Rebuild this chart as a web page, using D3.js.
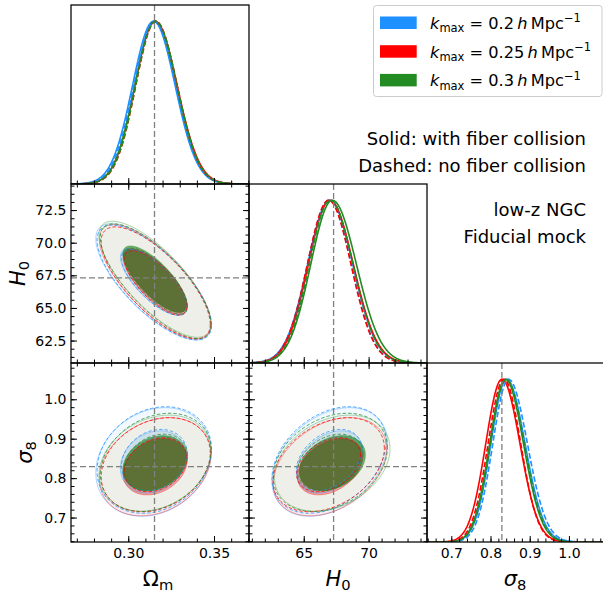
<!DOCTYPE html>
<html><head><meta charset="utf-8">
<script src="https://cdn.jsdelivr.net/npm/d3@7"></script>
<style>
body{margin:0;background:#fff}
svg{display:block;font-family:"DejaVu Sans",sans-serif}
</style>
</head><body>
<svg id="c" width="603" height="592"></svg>
<script>
// ---------------- DATA ----------------
// runs: k_max = 0.2, 0.25, 0.3 with fiber collision (solid), then without (dashed)
const kmaxLabels = ["0.2", "0.25", "0.3"];
const runK      = [0, 1, 2, 0, 1, 2];
const runDashed = [false, false, false, true, true, true];

const fiducial = [0.3153, 67.3, 0.829];          // Ωm, H0, σ8

// marginal means
const meanOm = [0.3147, 0.3157, 0.3155, 0.3152, 0.3160, 0.3160];
const meanH0 = [67.00, 67.02, 67.20, 66.95, 66.92, 67.05];
const meanS8 = [0.841, 0.829, 0.838, 0.846, 0.834, 0.840];

// 1D marginal widths (left / right of peak)
const sdLOm = [0.0122, 0.0118, 0.0117, 0.0120, 0.0116, 0.0117];
const sdROm = [0.0126, 0.0128, 0.0126, 0.0125, 0.0124, 0.0125];
const sdLH0 = [1.70, 1.66, 1.66, 1.66, 1.64, 1.62];
const sdRH0 = [1.78, 1.80, 1.86, 1.72, 1.72, 1.75];
const sdLS8 = [0.040, 0.041, 0.040, 0.040, 0.040, 0.040];
const sdRS8 = [0.047, 0.046, 0.046, 0.048, 0.043, 0.046];

// 2D contour widths and correlations
const sd2Om = [0.0127, 0.0123, 0.0123, 0.0126, 0.0120, 0.0122];
const sd2H0 = [1.68, 1.65, 1.68, 1.66, 1.62, 1.66];
const sd2S8 = [0.052, 0.047, 0.046, 0.051, 0.045, 0.047];
const rhoOmH0 = [-0.74, -0.74, -0.76, -0.74, -0.74, -0.76];
const rhoOmS8 = [0.20, 0.25, 0.25, 0.20, 0.25, 0.25];
const rhoH0S8 = [0.35, 0.35, 0.30, 0.35, 0.35, 0.30];
const contourRadii = [1.52, 2.65];   // inner / outer contour, in sigma units

// axes
const rangeOm = [0.2666, 0.3704];
const rangeH0 = [60.78, 74.5];
const rangeS8 = [0.638, 1.092];
const ticksOm = [0.30, 0.35];
const ticksH0x = [65, 70];
const ticksH0y = [62.5, 65.0, 67.5, 70.0, 72.5];
const ticksS8 = [0.7, 0.8, 0.9, 1.0];
const minorStepOm = 0.01, minorStepH0x = 1, minorStepH0y = 0.625, minorStepS8 = 0.02;

// ---------------- STYLE / LAYOUT ----------------
const colors = ["#1e90ff", "#ff0000", "#228b22"];
const L = 71, T = 5, W = 178, H = 179;
const svg = d3.select("#c");

const means = [meanOm, meanH0, meanS8];
const sdL = [sdLOm, sdLH0, sdLS8], sdR = [sdROm, sdRH0, sdRS8];
const sd2 = [sd2Om, sd2H0, sd2S8];
const rho = {"1,0": rhoOmH0, "2,0": rhoOmS8, "2,1": rhoH0S8};
const ranges = [rangeOm, rangeH0, rangeS8];
const fmtX = [d3.format(".2f"), d3.format("d"), d3.format(".1f")];
const fmtY = [null, d3.format(".1f"), d3.format(".1f")];
const majX = [ticksOm, ticksH0x, ticksS8];
const majY = [null, ticksH0y, ticksS8];
const minStepX = [minorStepOm, minorStepH0x, minorStepS8];
const minStepY = [null, minorStepH0y, minorStepS8];

function minors(dom, step) {
  const out = [];
  const s = Math.ceil(dom[0] / step - 1e-9);
  for (let k = s; k * step <= dom[1] + 1e-9; k++) out.push(+(k * step).toFixed(6));
  return out;
}

const xS = ranges.map((d, p) => d3.scaleLinear().domain(d).range([L + p * W, L + (p + 1) * W]));
const yS = ranges.map((d, p) => d3.scaleLinear().domain(d).range([T + (p + 1) * H, T + p * H]));
const yD = [0, 1, 2].map(p => d3.scaleLinear().domain([0, 1.1]).range([T + (p + 1) * H, T + p * H]));

const defs = svg.append("defs");
function clip(id, x, y) {
  defs.append("clipPath").attr("id", id).append("rect").attr("x", x).attr("y", y).attr("width", W).attr("height", H);
  return "url(#" + id + ")";
}
function pale(c, f) { return d3.interpolateRgb("#ffffff", c)(f); }

const runs = d3.range(6);
const runOrder = [0, 1, 2, 3, 4, 5];

function axes(g, i, j, diag) {
  const x0 = L + j * W, y0 = T + i * H;
  const xs = xS[j];
  const bMaj = d3.axisBottom(xs).tickValues(majX[j]).tickSize(-6).tickSizeOuter(0).tickPadding(6.5)
    .tickFormat(i === 2 ? fmtX[j] : "");
  const bMin = d3.axisBottom(xs).tickValues(minors(ranges[j], minStepX[j])).tickSize(-3.5).tickSizeOuter(0).tickFormat("");
  g.append("g").attr("class", "ax").attr("transform", `translate(0,${y0 + H})`).call(bMaj);
  g.append("g").attr("class", "ax").attr("transform", `translate(0,${y0 + H})`).call(bMin);
  if (diag) return;
  const ys = yS[i];
  g.append("g").attr("class", "ax").attr("transform", `translate(0,${y0})`)
    .call(d3.axisTop(xs).tickValues(majX[j]).tickSize(-6).tickSizeOuter(0).tickFormat(""));
  g.append("g").attr("class", "ax").attr("transform", `translate(0,${y0})`)
    .call(d3.axisTop(xs).tickValues(minors(ranges[j], minStepX[j])).tickSize(-3.5).tickSizeOuter(0).tickFormat(""));
  g.append("g").attr("class", "ax").attr("transform", `translate(${x0},0)`)
    .call(d3.axisLeft(ys).tickValues(majY[i]).tickSize(-6).tickSizeOuter(0).tickPadding(4.5).tickFormat(j === 0 ? fmtY[i] : ""));
  g.append("g").attr("class", "ax").attr("transform", `translate(${x0},0)`)
    .call(d3.axisLeft(ys).tickValues(minors(ranges[i], minStepY[i])).tickSize(-3.5).tickSizeOuter(0).tickFormat(""));
  g.append("g").attr("class", "ax").attr("transform", `translate(${x0 + W},0)`)
    .call(d3.axisRight(ys).tickValues(majY[i]).tickSize(-6).tickSizeOuter(0).tickFormat(""));
  g.append("g").attr("class", "ax").attr("transform", `translate(${x0 + W},0)`)
    .call(d3.axisRight(ys).tickValues(minors(ranges[i], minStepY[i])).tickSize(-3.5).tickSizeOuter(0).tickFormat(""));
}

// ---------- diagonal (1D) panels ----------
for (let p = 0; p < 3; p++) {
  const x0 = L + p * W, y0 = T + p * H;
  const g = svg.append("g").attr("clip-path", clip("cd" + p, x0, y0));
  const dom = ranges[p];
  const xsamp = d3.range(0, 301).map(k => dom[0] + (dom[1] - dom[0]) * k / 300);
  runOrder.forEach(r => {
    const m = means[p][r];
    const dens = v => { const s = v < m ? sdL[p][r] : sdR[p][r]; return Math.exp(-0.5 * ((v - m) / s) ** 2); };
    const line = d3.line().x(v => xS[p](v)).y(v => yD[p](dens(v)));
    g.append("path").attr("d", line(xsamp)).attr("fill", "none")
      .attr("stroke", colors[runK[r]]).attr("stroke-width", 1.6)
      .attr("stroke-dasharray", runDashed[r] ? "5.5,2.4" : null);
  });
  g.append("line").attr("x1", xS[p](fiducial[p])).attr("x2", xS[p](fiducial[p]))
    .attr("y1", y0).attr("y2", y0 + H).attr("stroke", "#808080").attr("stroke-width", 1.3)
    .attr("stroke-dasharray", "6,3");
  const a = svg.append("g");
  axes(a, p, p, true);
  svg.append("rect").attr("x", x0).attr("y", y0).attr("width", W).attr("height", H)
    .attr("fill", "none").attr("stroke", "#000").attr("stroke-width", 1.25);
}

// ---------- 2D panels ----------
function ellipse(r, j, i, k) {
  const mx = means[j][r], my = means[i][r];
  const sx = sd2[j][r], sy = sd2[i][r], c = rho[i + "," + j][r];
  return d3.range(0, 120).map(n => {
    const t = 2 * Math.PI * n / 120;
    const u = Math.cos(t), w = Math.sin(t);
    return [xS[j](mx + k * sx * u), yS[i](my + k * sy * (c * u + Math.sqrt(1 - c * c) * w))];
  });
}
function closedPath(pts) { return "M" + pts.map(p => p[0].toFixed(2) + "," + p[1].toFixed(2)).join("L") + "Z"; }

for (let i = 1; i < 3; i++) {
  for (let j = 0; j < i; j++) {
    const x0 = L + j * W, y0 = T + i * H;
    const g = svg.append("g").attr("clip-path", clip("c" + i + j, x0, y0));
    runs.filter(r => !runDashed[r]).forEach(r => {
      const col = colors[runK[r]];
      const inner = ellipse(r, j, i, contourRadii[0]);
      const outer = ellipse(r, j, i, contourRadii[1]);
      g.append("path").attr("d", closedPath(outer) + closedPath(inner.slice().reverse()))
        .attr("fill", pale(col, 0.12)).attr("fill-opacity", 0.5).attr("fill-rule", "evenodd");
      g.append("path").attr("d", closedPath(inner)).attr("fill", col).attr("fill-opacity", 0.65);
    });
    runs.filter(r => !runDashed[r]).forEach(r => {
      contourRadii.forEach(k => {
        g.append("path").attr("d", closedPath(ellipse(r, j, i, k))).attr("fill", "none")
          .attr("stroke", colors[runK[r]]).attr("stroke-opacity", 0.35).attr("stroke-width", 1);
      });
    });
    runs.filter(r => runDashed[r]).forEach(r => {
      contourRadii.forEach(k => {
        g.append("path").attr("d", closedPath(ellipse(r, j, i, k))).attr("fill", "none")
          .attr("stroke", colors[runK[r]]).attr("stroke-opacity", 0.75).attr("stroke-width", 1)
          .attr("stroke-dasharray", "3.5,2");
      });
    });
    g.append("line").attr("x1", xS[j](fiducial[j])).attr("x2", xS[j](fiducial[j]))
      .attr("y1", y0).attr("y2", y0 + H).attr("stroke", "#808080").attr("stroke-width", 1.3).attr("stroke-dasharray", "6,3");
    g.append("line").attr("y1", yS[i](fiducial[i])).attr("y2", yS[i](fiducial[i]))
      .attr("x1", x0).attr("x2", x0 + W).attr("stroke", "#808080").attr("stroke-width", 1.3).attr("stroke-dasharray", "6,3");
    const a = svg.append("g");
    axes(a, i, j, false);
    svg.append("rect").attr("x", x0).attr("y", y0).attr("width", W).attr("height", H)
      .attr("fill", "none").attr("stroke", "#000").attr("stroke-width", 1.25);
  }
}

svg.selectAll(".ax .domain").remove();
svg.selectAll(".ax line").attr("stroke", "#000").attr("stroke-width", 1);
svg.selectAll(".ax text").attr("font-size", 14).attr("fill", "#000").attr("font-family", "DejaVu Sans");

// ---------- axis labels ----------
function mathLabel(x, y, main, sub, italic, rotate) {
  const t = svg.append("text").attr("font-size", 21).attr("text-anchor", "middle").attr("fill", "#000")
    .attr("transform", rotate ? `translate(${x},${y}) rotate(-90)` : `translate(${x},${y})`);
  t.append("tspan").attr("font-style", italic ? "italic" : "normal").text(main);
  t.append("tspan").attr("font-size", 14.7).attr("dy", 4).text(sub);
  return t;
}
mathLabel(158, 586, "Ω", "m", false, false);
mathLabel(338, 586, "H", "0", true, false);
mathLabel(515, 586, "σ", "8", true, false);
mathLabel(25, 273.5, "H", "0", true, true);
mathLabel(32, 452.5, "σ", "8", true, true);

// ---------- legend ----------
const lg = svg.append("g");
lg.append("rect").attr("x", 373.5).attr("y", 5.5).attr("width", 228.5).attr("height", 91).attr("rx", 3)
  .attr("fill", "#fff").attr("fill-opacity", 0.8).attr("stroke", "#cccccc").attr("stroke-width", 1);
kmaxLabels.forEach((lab, n) => {
  const yb = 28.8 + n * 28.7;
  lg.append("rect").attr("x", 380).attr("y", yb - 12.3).attr("width", 36.7).attr("height", 12.5).attr("fill", colors[n]);
  const t = lg.append("text").attr("x", 430).attr("y", yb).attr("font-size", 16.2).attr("fill", "#000");
  t.append("tspan").attr("font-style", "italic").text("k");
  t.append("tspan").attr("font-size", 11.5).attr("dy", 3.5).text("max");
  t.append("tspan").attr("dy", -3.5).text(" = " + lab + "\u2009");
  t.append("tspan").attr("font-style", "italic").text("h");
  t.append("tspan").text("\u2009Mpc");
  t.append("tspan").attr("font-size", 11.5).attr("dy", -6.5).text("\u22121");
});

// ---------- annotations ----------
const notes = [["Solid: with fiber collision", 145], ["Dashed: no fiber collision", 172],
               ["low-z NGC", 216], ["Fiducial mock", 243]];
notes.forEach(([s, y]) => svg.append("text").attr("x", 586).attr("y", y).attr("text-anchor", "end")
  .attr("font-size", 18).attr("fill", "#000").text(s));
</script>
</body></html>
